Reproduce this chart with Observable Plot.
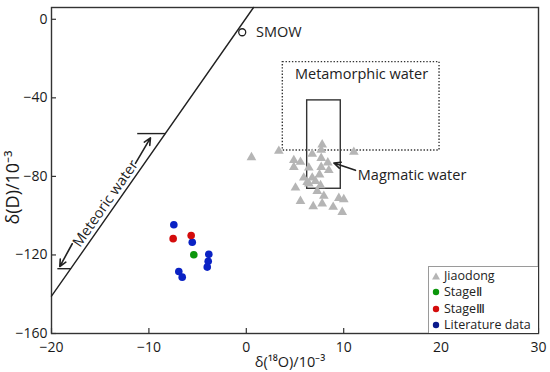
<!DOCTYPE html>
<html>
<head>
<meta charset="utf-8">
<script src="https://cdn.jsdelivr.net/npm/d3@7"></script>
<script src="https://cdn.jsdelivr.net/npm/@observablehq/plot@0.6"></script>
<style>
  html, body { margin: 0; padding: 0; background: #fff; }
  #wrap { position: relative; width: 550px; height: 372px; font-family: "Open Sans", sans-serif; }
  #legend { position: absolute; left: 428px; top: 266px; width: 109px; height: 66px;
    border: 1px solid #9a9a9a; border-right: none; border-bottom: none; background: #fff;
    font-size: 12.5px; color: #222; }
  .li { position: absolute; left: 0; height: 16px; line-height: 16px; white-space: nowrap; }
  .li svg { position: absolute; left: 3px; top: 4px; }
  .li span { position: absolute; left: 15px; top: 0; }
</style>
</head>
<body>
<div id="wrap"></div>
<script>
// ---------- data ----------
const xTicks = [-20, -10, 0, 10, 20, 30];
const yTicks = [0, -40, -80, -120, -160];
const xLabel = "δ(¹⁸O)/10⁻³";
const yLabel = "δ(D)/10⁻³";

// Jiaodong (gray triangles): [δ18O, δD]
const jiaodong = [
  [0.53, -70.3], [3.34, -67.1], [7.79, -63.8], [7.69, -66.6], [6.77, -68.6], [11.04, -67.6],
  [4.88, -71.8], [5.56, -72.7], [4.88, -75.3], [6.42, -75.6], [7.69, -70.7], [8.37, -73.0],
  [7.69, -75.3], [8.47, -76.9], [5.90, -80.7], [6.77, -80.7], [7.52, -79.1], [6.42, -83.7],
  [7.10, -82.5], [7.62, -84.6], [5.05, -85.8], [7.28, -87.5], [7.96, -90.0], [5.56, -92.6],
  [6.87, -95.3], [7.79, -93.9], [8.92, -95.6], [9.50, -91.1], [10.01, -91.7], [9.85, -98.2],
  [6.25, -82.9]
];
const stage2 = [[-5.39, -119.9]];
const stage3 = [[-7.51, -111.7], [-5.66, -110.1]];
const literature = [
  [-7.44, -104.6], [-5.55, -113.5], [-3.85, -119.7], [-3.91, -123.2], [-4.01, -126.2],
  [-6.93, -128.4], [-6.58, -131.3]
];

// reference features
const smow = [[-0.42, -6.6]];
const meteoricLine = [[-20, -141], [0.74, 6]];
const meteoricTicks = [
  {x1: -11.2, x2: -8.3, y: -58.2},
  {x1: -19.4, x2: -18.0, y: -127.0}
];
const meteoricArrows = [
  {x1: -11.38, y1: -73.4, x2: -9.84, y2: -60.4},
  {x1: -17.87, y1: -114.3, x2: -19.15, y2: -125.9}
];
const metamorphicBox = [{x1: 3.75, x2: 19.84, y1: -21.8, y2: -66.8}];
const magmaticBox = [{x1: 6.25, x2: 9.70, y1: -41.3, y2: -86.3}];
const magmaticArrow = [{x1: 11.21, y1: -76.9, x2: 8.99, y2: -73.2}];
const startLabels = [
  {x: 1.0, y: -6.6, text: "SMOW"},
  {x: 11.45, y: -79.3, text: "Magmatic water"}
];
const middleLabels = [
  {x: 11.83, y: -28.0, text: "Metamorphic water", rotate: 0},
  {x: -14.46, y: -93.8, text: "Meteoric water", rotate: -55}
];
const legendItems = [
  {color: "#b5b5b5", shape: "triangle", label: "Jiaodong"},
  {color: "#0b960b", shape: "circle", label: "Stage\u2161"},
  {color: "#d40c0c", shape: "circle", label: "Stage\u2162"},
  {color: "#0a1a8c", shape: "circle", label: "Literature data"}
];
const colors = {jiaodong: "#b5b5b5", stage2: "#0b960b", stage3: "#d40c0c", literature: "#0a22c4"};

// ---------- chart ----------
const W = 550, H = 372;
const mL = 51, mR = 12, mT = 7, mB = 39;
const plotH = H - mT - mB, plotW = W - mL - mR;
const fmt = d => d < 0 ? "\u2212" + Math.abs(d) : String(d);

const chart = Plot.plot({
  width: W, height: H,
  marginLeft: mL, marginRight: mR, marginTop: mT, marginBottom: mB,
  style: {fontFamily: "'Open Sans', sans-serif", fontSize: "14px", color: "#1a1a1a", background: "#fff"},
  x: {domain: [-20, 30]},
  y: {domain: [-160, 6]},
  marks: [
    Plot.axisX({ticks: xTicks, tickSize: 0, tickPadding: 9, label: null, tickFormat: fmt, fontSize: 14}),
    Plot.axisY({ticks: yTicks, tickSize: 0, tickPadding: 4, label: null, tickFormat: fmt, fontSize: 14}),
    Plot.tickX(xTicks, {x: d => d, insetTop: plotH - 5, stroke: "#333", strokeWidth: 1.2}),
    Plot.tickY(yTicks, {y: d => d, insetRight: plotW - 5, stroke: "#333", strokeWidth: 1.2}),
    Plot.frame({stroke: "#333", strokeWidth: 1.4}),
    Plot.text([xLabel], {text: d => d, frameAnchor: "bottom", textAnchor: "middle", lineAnchor: "middle", dy: 29, dx: -5, fontSize: 14.5}),
    Plot.text([yLabel], {text: d => d, x: () => -20, y: () => -104.5, textAnchor: "start", dx: -38, rotate: -90, fontSize: 18}),
    // reference features
    Plot.line(meteoricLine, {x: d => d[0], y: d => d[1], stroke: "#222", strokeWidth: 1.4}),
    Plot.link(meteoricTicks, {x1: "x1", x2: "x2", y1: "y", y2: "y", stroke: "#222", strokeWidth: 1.4}),
    Plot.arrow(meteoricArrows, {x1: "x1", y1: "y1", x2: "x2", y2: "y2", stroke: "#222", strokeWidth: 1.6, headLength: 7, headAngle: 50}),
    Plot.rect(metamorphicBox, {x1: "x1", x2: "x2", y1: "y1", y2: "y2", fill: "none", stroke: "#333", strokeWidth: 1.4, strokeDasharray: "1.4,1.8"}),
    Plot.rect(magmaticBox, {x1: "x1", x2: "x2", y1: "y1", y2: "y2", fill: "none", stroke: "#333", strokeWidth: 1.4}),
    Plot.arrow(magmaticArrow, {x1: "x1", y1: "y1", x2: "x2", y2: "y2", stroke: "#222", strokeWidth: 1.6, headLength: 7, headAngle: 50}),
    Plot.dot(smow, {x: d => d[0], y: d => d[1], r: 3.5, fill: "#fff", stroke: "#222", strokeWidth: 1.3}),
    Plot.text(startLabels, {x: "x", y: "y", text: "text", textAnchor: "start", fontSize: 14.5, fill: "#222"}),
    Plot.text(middleLabels, {x: "x", y: "y", text: "text", textAnchor: "middle", rotate: "rotate", fontSize: 14.5, fill: "#222"}),
    // data
    Plot.dot(jiaodong, {x: d => d[0], y: d => d[1], symbol: "triangle", r: 3.6, fill: colors.jiaodong, stroke: "none"}),
    Plot.dot(literature, {x: d => d[0], y: d => d[1], r: 3.8, fill: colors.literature, stroke: "none"}),
    Plot.dot(stage3, {x: d => d[0], y: d => d[1], r: 3.8, fill: colors.stage3, stroke: "none"}),
    Plot.dot(stage2, {x: d => d[0], y: d => d[1], r: 3.8, fill: colors.stage2, stroke: "none"})
  ]
});

const wrap = document.getElementById("wrap");
wrap.appendChild(chart);

// legend (inside plot area)
const leg = document.createElement("div");
leg.id = "legend";
legendItems.forEach((it, i) => {
  const row = document.createElement("div");
  row.className = "li";
  row.style.top = (1 + i * 16.3) + "px";
  const shape = it.shape === "triangle"
    ? `<polygon points="4,0.5 8,7.5 0,7.5" fill="${it.color}"/>`
    : `<circle cx="4" cy="4" r="3.2" fill="${it.color}"/>`;
  row.innerHTML = `<svg width="8" height="8">${shape}</svg><span>${it.label}</span>`;
  leg.appendChild(row);
});
wrap.appendChild(leg);
</script>
</body>
</html>
